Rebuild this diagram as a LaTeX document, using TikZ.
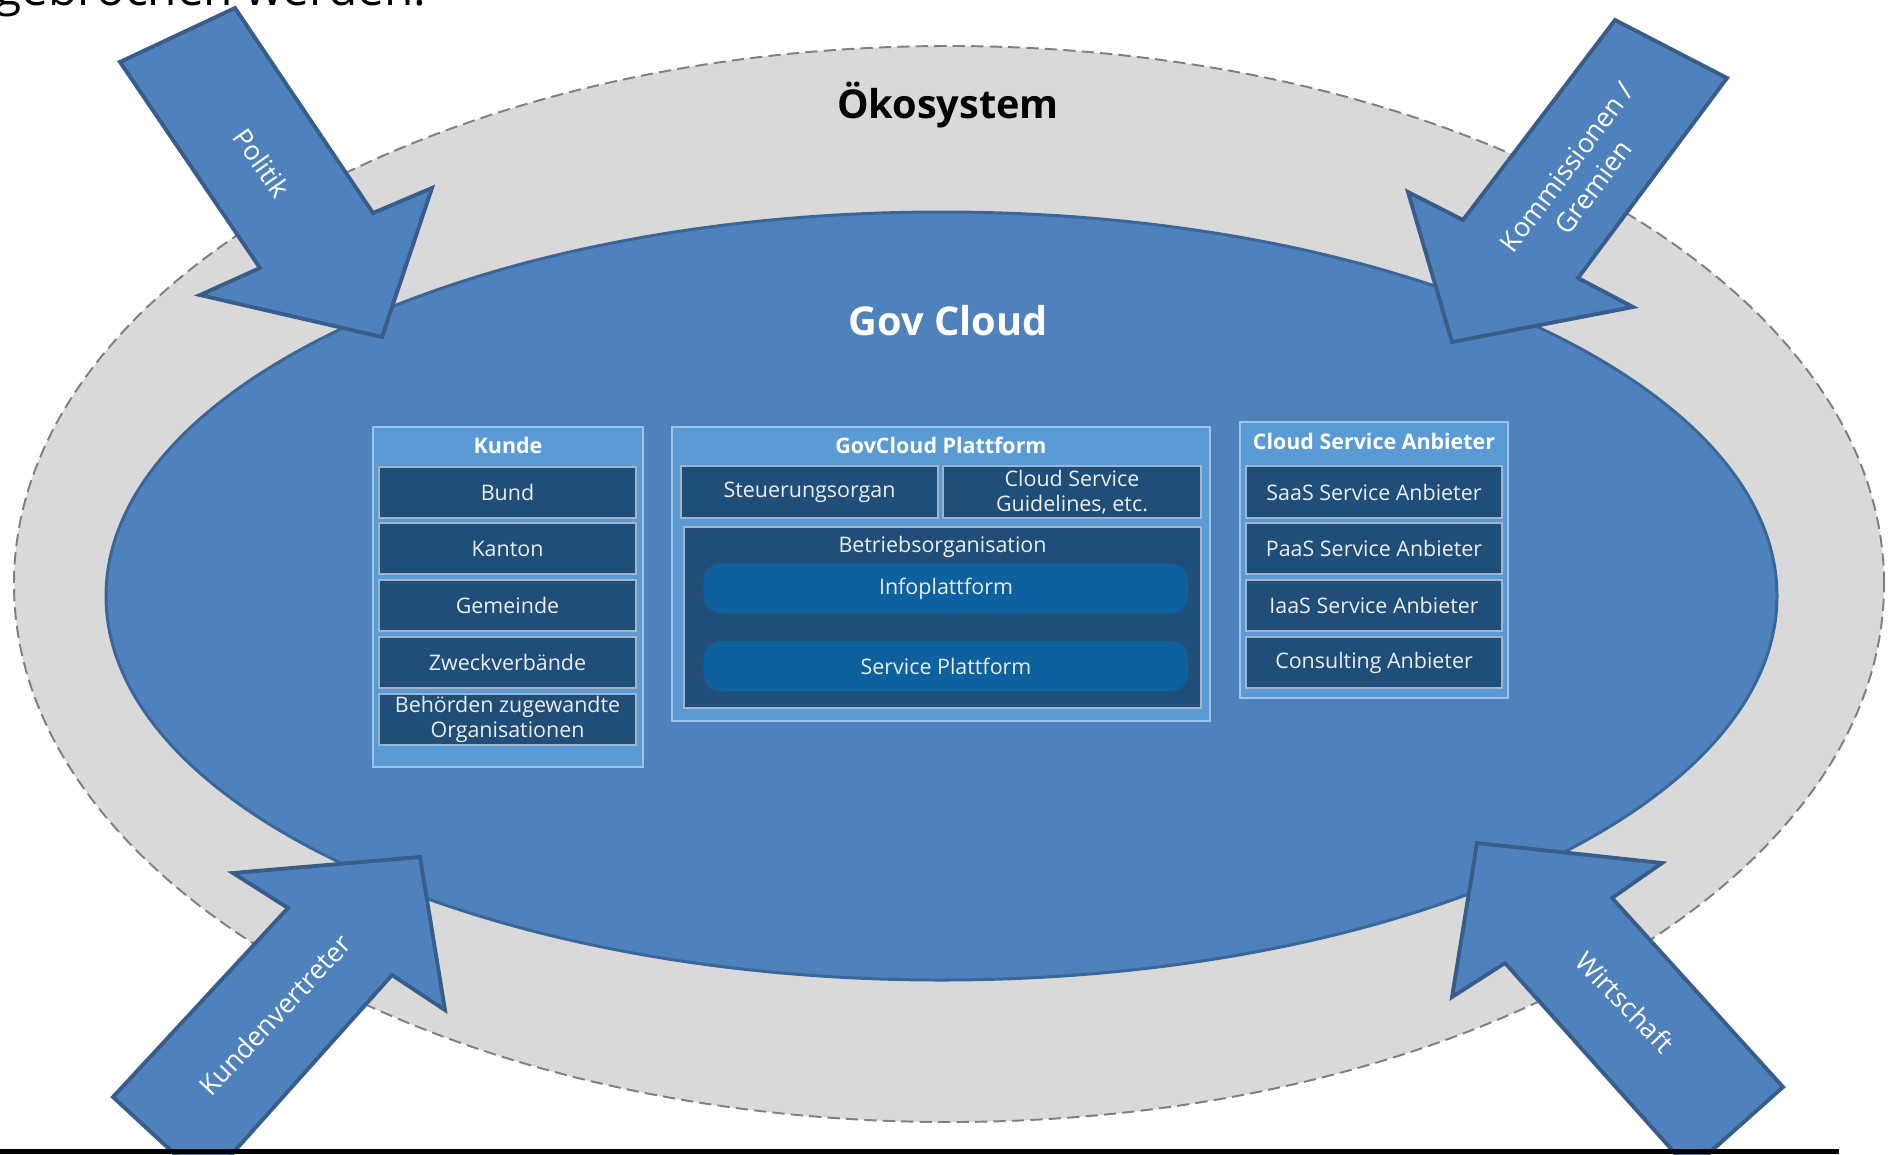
\documentclass[tikz,border=0pt]{standalone}
\usepackage{fontspec}
\setmainfont{Open Sans}
\usetikzlibrary{shapes.geometric}
\definecolor{ecofill}{HTML}{D9D9D9}
\definecolor{ecoline}{HTML}{7F7F7F}
\definecolor{govfill}{HTML}{4F81BD}
\definecolor{govline}{HTML}{3B6699}
\definecolor{arrowline}{HTML}{385D8A}
\definecolor{panelfill}{HTML}{5B9BD5}
\definecolor{panelline}{HTML}{9DC3E6}
\definecolor{boxfill}{HTML}{1F4E79}
\definecolor{boxline}{HTML}{A3B4C8}
\definecolor{boxtext}{HTML}{EDEDED}
\definecolor{pillfill}{HTML}{0C619E}
\definecolor{pillline}{HTML}{2B4C70}
\begin{document}
\begin{tikzpicture}[x=0.02cm,y=-0.02cm,
  wh/.style 2 args={minimum width=#1*0.02cm, minimum height=#2*0.02cm},
  panel/.style={draw=panelline, line width=0.8pt, fill=panelfill, inner sep=0pt},
  ptitle/.style={text=white, font=\fontsize{12.2}{14.4}\selectfont\bfseries, inner sep=0pt},
  dbox/.style={draw=boxline, line width=0.8pt, fill=boxfill, text=boxtext, inner sep=0pt, align=center, font=\fontsize{12.2}{14.4}\selectfont},
  boxtxt/.style={text=boxtext, inner sep=0pt, font=\fontsize{12.2}{14.4}\selectfont},
  pill/.style={draw=pillline, line width=0.8pt, fill=pillfill, text=boxtext, inner sep=0pt, rounded corners=10pt, font=\fontsize{12.2}{14.4}\selectfont},
  bigarrow/.style={fill=govfill, draw=arrowline, line width=2.2pt, line join=miter},
  arrowlabel/.style={text=white, inner sep=0pt, align=center, font=\fontsize{15.3}{18.6}\selectfont},
  bigtitle/.style={inner sep=0pt, anchor=base, font=\fontsize{22.6}{27}\selectfont\bfseries}
]
\useasboundingbox (0,0) rectangle (1888,1154);
\clip (0,0) rectangle (1888,1154);
\fill[white] (0,0) rectangle (1888,1154);

% top cropped text
\node[anchor=base west, inner sep=0pt, font=\fontsize{27.2}{32}\selectfont] (toptext) at (-5,5) {gebrochen werden.};

% ellipses
\node[ellipse, draw=ecoline, fill=ecofill, line width=1.1pt, dash pattern=on 7pt off 3.5pt, minimum width=1870*0.02cm, minimum height=1076*0.02cm, inner sep=0pt] (eco) at (949,584) {};
\node[ellipse, draw=govline, fill=govfill, line width=1.7pt, minimum width=1671*0.02cm, minimum height=768*0.02cm, inner sep=0pt] (gov) at (941.5,596) {};

\node[bigtitle] (ecoT) at (948,118) {Ökosystem};
\node[bigtitle, text=white] (govT) at (948,335) {Gov Cloud};

% arrows
\filldraw[bigarrow] (120,62) -- (235,8) -- (373,213) -- (432,188) -- (382,337) -- (200,295) -- (260,268) -- cycle;
\filldraw[bigarrow] (1615,20) -- (1727,78) -- (1578,278) -- (1633,307) -- (1452,342) -- (1408,192) -- (1463,220) -- cycle;
\filldraw[bigarrow] (113,1097) -- (288,908) -- (233,873) -- (420,857) -- (445,1010) -- (392,975) -- (206,1183) -- cycle;
\filldraw[bigarrow] (1477,843) -- (1662,863) -- (1612,898) -- (1783,1087) -- (1690,1170) -- (1505,963) -- (1452,997) -- cycle;

\node[arrowlabel, rotate=-55] (politik) at (262,163) {Politik};
\node[arrowlabel, rotate=53] (kommission) at (1580,177) {Kommissionen /\\Gremien};
\node[arrowlabel, rotate=47] (kundenv) at (275,1015) {Kundenvertreter};
\node[arrowlabel, rotate=-46] (wirtschaft) at (1625,1002) {Wirtschaft};

% Kunde panel
\node[panel, wh={270}{340}] (kunde) at (508,597) {};
\node[ptitle] (kundeT) at (508,445) {Kunde};
\node[dbox, wh={257}{51}] (bund) at (507.5,492.5) {Bund};
\node[dbox, wh={257}{51}] (kanton) at (507.5,548.5) {Kanton};
\node[dbox, wh={257}{51}] (gemeinde) at (507.5,605.5) {Gemeinde};
\node[dbox, wh={257}{51}] (zweck) at (507.5,662.5) {Zweckverbände};
\node[dbox, wh={257}{51}] (behoerden) at (507.5,719.5) {Behörden zugewandte\\Organisationen};

% GovCloud panel
\node[panel, wh={538}{294}] (plattform) at (941,574) {};
\node[ptitle] (plattformT) at (941,445) {GovCloud Plattform};
\node[dbox, wh={257}{52}] (steuer) at (809.5,492) {Steuerungsorgan};
\node[dbox, wh={258}{52}] (guide) at (1072,492) {Cloud Service\\Guidelines, etc.};
\node[dbox, wh={517}{181}] (betrieb) at (942.5,617.5) {};
\node[boxtxt] (betriebT) at (942.5,547) {Betriebsorganisation};
\node[pill, wh={486}{51}] (info) at (946,588.5) {Infoplattform};
\node[pill, wh={486}{52}] (service) at (946,666) {Service Plattform};

% Cloud Service Anbieter panel
\node[panel, wh={268}{276}] (csa) at (1374,560) {};
\node[ptitle] (csaT) at (1374,441) {Cloud Service Anbieter};
\node[dbox, wh={256}{52}] (saas) at (1374,492) {SaaS Service Anbieter};
\node[dbox, wh={256}{51}] (paas) at (1374,548.5) {PaaS Service Anbieter};
\node[dbox, wh={256}{51}] (iaas) at (1374,605.5) {IaaS Service Anbieter};
\node[dbox, wh={256}{51}] (consult) at (1374,662.5) {Consulting Anbieter};

% bottom rule
\fill[black] (0,1149) rectangle (1839,1154);
\end{tikzpicture}
\end{document}
